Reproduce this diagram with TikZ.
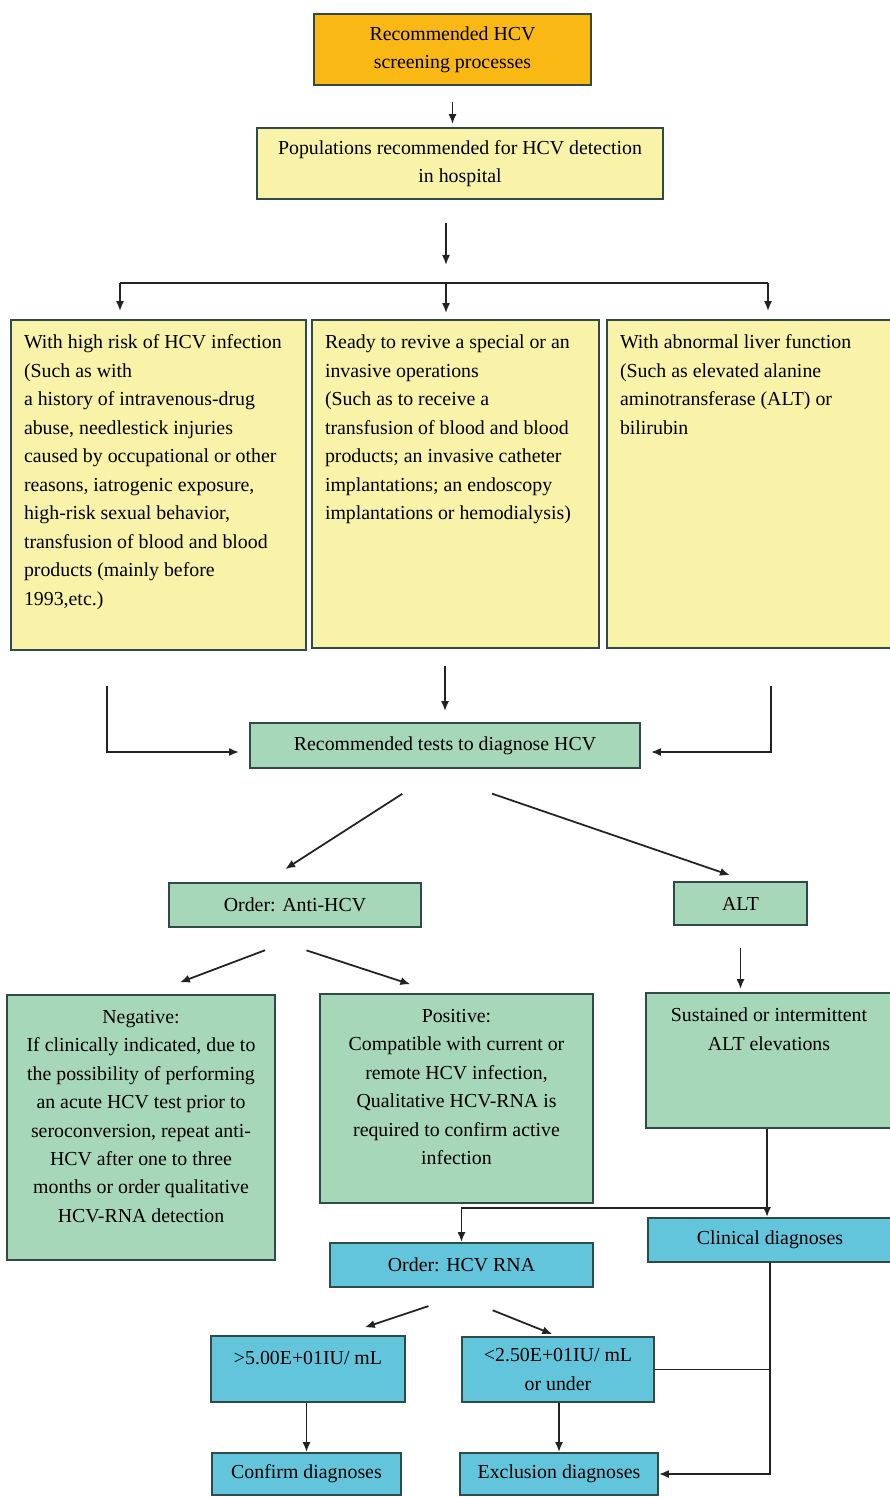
\documentclass[tikz,border=0pt]{standalone}
\usepackage{fontspec}
\setmainfont{Liberation Serif}
\usepackage{tikz}
\usetikzlibrary{shapes,arrows,arrows.meta}

\newlength{\px}
\setlength{\px}{0.02cm}
\newcommand{\toptext}[3]{\parbox[c][#2][t]{#1}{#3}}

\definecolor{orangefill}{HTML}{F9B814}
\definecolor{yellowfill}{HTML}{F8F3A9}
\definecolor{greenfill}{HTML}{A7D7B9}
\definecolor{bluefill}{HTML}{63C5DB}
\definecolor{boxline}{HTML}{2E4B47}
\definecolor{arrowline}{HTML}{222222}

\tikzstyle{box} = [draw=boxline, line width=1.1pt, inner sep=0pt, align=center,
  text=black, font=\fontsize{11.3}{16.2}\selectfont]
\tikzstyle{orangebox} = [box, fill=orangefill]
\tikzstyle{yellowbox} = [box, fill=yellowfill]
\tikzstyle{greenbox} = [box, fill=greenfill]
\tikzstyle{bluebox} = [box, fill=bluefill]
\tikzstyle{textbox} = [inner xsep=13\px, inner ysep=15\px]

\begin{document}
\begin{tikzpicture}[x=0.02cm, y=-0.02cm, ->, >={Latex[length=5.7pt, width=4.6pt]},
  line width=1pt, color=arrowline]

\useasboundingbox[-, fill=white] (0,0) rectangle (889,1497);

% screening and populations
\node[orangebox, minimum width=277\px, minimum height=71\px] (top) at (452.5,49.5)
  {Recommended HCV\\screening processes};
\node[yellowbox, minimum width=406\px, minimum height=71\px] (pop) at (460,163.5)
  {Populations recommended for HCV detection\\in hospital};

% three groups
\node[yellowbox, textbox] (risk) at (158.5,485) {\toptext{269\px}{300\px}{\raggedright
  With high risk of HCV infection\\(Such as with\\a history of intravenous-drug\\
  abuse, needlestick injuries\\caused by occupational or other\\
  reasons, iatrogenic exposure,\\high-risk sexual behavior,\\
  transfusion of blood and blood\\products (mainly before\\1993,etc.)}};
\node[yellowbox, textbox] (ops) at (455.5,484) {\toptext{261\px}{298\px}{\raggedright
  Ready to revive a special or an\\invasive operations\\(Such as to receive a\\
  transfusion of blood and blood\\products; an invasive catheter\\
  implantations; an endoscopy\\implantations or hemodialysis)}};
\node[yellowbox, textbox] (liver) at (749.5,484) {\toptext{259\px}{298\px}{\raggedright
  With abnormal liver function\\(Such as elevated alanine\\
  aminotransferase (ALT) or\\bilirubin}};

% tests
\node[greenbox, minimum width=390\px, minimum height=45\px] (tests) at (445,745.5)
  {Recommended tests to diagnose HCV};
\node[greenbox, minimum width=252\px, minimum height=44\px] (anti) at (295,905)
  {Order: Anti-HCV};
\node[greenbox, minimum width=133\px, minimum height=43\px] (alt) at (740.5,903.5)
  {ALT};
\node[greenbox, textbox] (neg) at (141,1127.5) {\toptext{242\px}{235\px}{\centering
  Negative:\\If clinically indicated, due to\\the possibility of performing\\
  an acute HCV test prior to\\seroconversion, repeat anti-\\HCV after one to three\\
  months or order qualitative\\HCV-RNA detection}};
\node[greenbox, textbox] (pos) at (456.5,1098.5) {\toptext{247\px}{179\px}{\centering
  Positive:\\Compatible with current or\\remote HCV infection,\\
  Qualitative HCV-RNA is\\required to confirm active\\infection}};
\node[greenbox, textbox] (sust) at (769,1060.5) {\toptext{220\px}{105\px}{\centering
  Sustained or intermittent\\ALT elevations}};

% diagnoses
\node[bluebox, minimum width=244\px, minimum height=44\px] (clin) at (770,1240)
  {Clinical diagnoses};
\node[bluebox, minimum width=263\px, minimum height=44\px] (rna) at (461.5,1265)
  {Order: HCV RNA};
\node[bluebox, textbox] (high) at (308,1369) {\toptext{168\px}{36\px}{\centering
  >5.00E+01IU/ mL}};
\node[bluebox, minimum width=192\px, minimum height=65\px] (low) at (558,1369.5)
  {<2.50E+01IU/ mL\\or under};
\node[bluebox, minimum width=189\px, minimum height=42\px] (confirm) at (306.5,1474)
  {Confirm diagnoses};
\node[bluebox, minimum width=198\px, minimum height=42\px] (excl) at (559,1474)
  {Exclusion diagnoses};

\coordinate (bl) at (120,283);
\coordinate (bm) at (446,283);
\coordinate (br) at (768,283);
\coordinate (jn) at (767,1208);

\draw[-] (bl) -- (br);
\draw[shorten <=35\px, shorten >=10\px] ([xshift=-51.5\px]risk.south) |- ([yshift=-6.5\px]tests.west);
\draw[shorten <=37\px, shorten >=10\px] ([xshift=21.5\px]liver.south) |- ([yshift=-6.5\px]tests.east);
\draw (jn) -| (rna);
\draw (clin) |- (excl);
\draw[-] (low) -- (low -| clin);

\path
(top) edge [shorten <=16\px, shorten >=3\px] (top |- pop.north)
(pop.south -| bm) edge [shorten <=23\px, shorten >=18\px] (bm)
(bl) edge [shorten >=8\px] (bl |- risk.north)
(bm) edge [shorten >=6\px] (bm |- ops.north)
(br) edge [shorten >=8\px] (br |- liver.north)
(ops.south -| tests) edge [shorten <=17\px, shorten >=11\px] (tests)
([xshift=-4\px]tests.south) edge [shorten <=46\px, shorten >=24\px] ([xshift=-30\px]anti.north)
([xshift=-25\px]tests.south) edge [shorten <=76\px, shorten >=18\px] ([xshift=6.5\px]alt.north)
([xshift=29\px]anti.south) edge [shorten <=63\px, shorten >=33\px] ([xshift=8\px]neg.north)
([xshift=-57\px]anti.south) edge [shorten <=72\px, shorten >=28\px] ([xshift=-19.5\px]pos.north)
(alt) edge [shorten <=22\px, shorten >=3\px] (alt |- sust.north)
(jn |- sust.south) edge [] (jn |- clin.north)
([xshift=21\px]rna.south) edge [shorten <=57\px, shorten >=24\px] ([xshift=34\px]high.north)
([xshift=-24.5\px]rna.south) edge [shorten <=60\px, shorten >=5\px] ([xshift=-1\px]low.north)
(high.south -| confirm) edge [] (confirm)
(low.south -| excl) edge [] (excl);

\end{tikzpicture}
\end{document}
